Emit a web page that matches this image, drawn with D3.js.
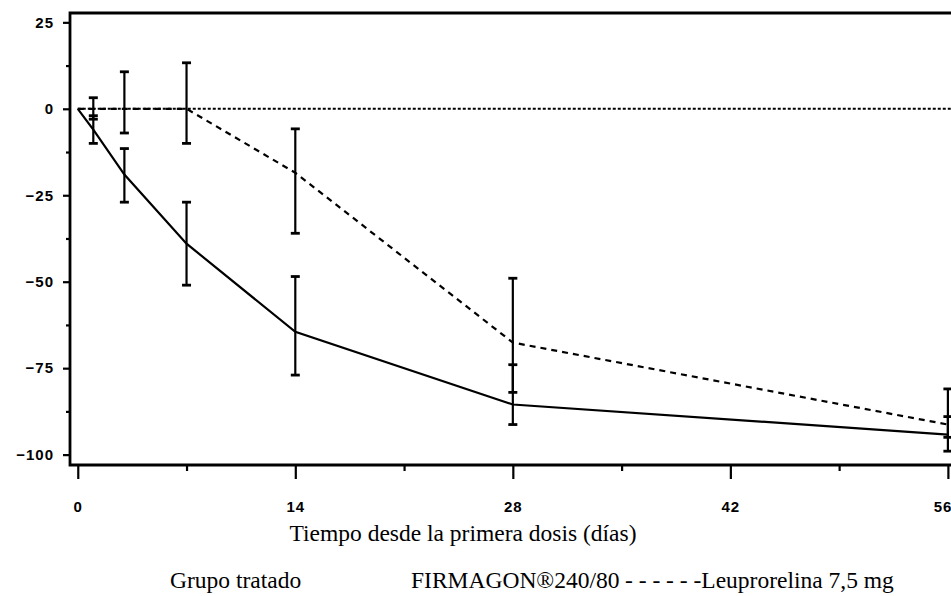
<!DOCTYPE html>
<html>
<head>
<meta charset="utf-8">
<script src="https://cdn.jsdelivr.net/npm/d3@7"></script>
<style>
  html, body { margin: 0; padding: 0; background: #fff; }
  svg { display: block; }
</style>
</head>
<body>
<script>
// ---- data ----
const days = [0, 1, 3, 7, 14, 28, 56];
const firmagon = [0, -6, -19, -39, -64.5, -85.5, -94.2];
const firmagonLow = [null, -10, -27, -51, -77, -91.3, -99];
const firmagonHigh = [null, -2, -11.5, -27, -48.5, -74, -89];
const leuprorelin = [0, 0, 0, 0, -18.5, -67.6, -91.3];
const leuprorelinLow = [null, -3, -7, -10, -36, -82, -95];
const leuprorelinHigh = [null, 3.2, 10.7, 13.3, -5.8, -49, -81];
const xMajorTicks = [0, 14, 28, 42, 56];
const xMinorTicks = [7, 21, 35, 49];
const yMajorTicks = [25, 0, -25, -50, -75, -100];
const yMinorTicks = [12.5, -12.5, -37.5, -62.5, -87.5];
const xTitle = "Tiempo desde la primera dosis (días)";
const legendLabels = ["Grupo tratado", "FIRMAGON®240/80", "- - - - - -Leuprorelina 7,5 mg"];

// ---- layout ----
const W = 951, H = 596;
const plotL = 70, plotR = 951, plotT = 13, plotB = 465;

const svg = d3.select("body").append("svg").attr("width", W).attr("height", H);

const x = d3.scaleLinear().domain([-0.5, 56.2]).range([plotL, plotR]);
const y = d3.scaleLinear().domain([-103, 27.7]).range([plotB, plotT]);

// zero reference line
svg.append("line")
  .attr("x1", x(0)).attr("x2", plotR)
  .attr("y1", y(0)).attr("y2", y(0))
  .attr("stroke", "#000").attr("stroke-width", 2)
  .attr("stroke-dasharray", "3,2");

// axes
const gx = svg.append("g").attr("transform", `translate(0,${plotB})`)
  .call(d3.axisBottom(x).tickValues(xMajorTicks).tickSize(14).tickPadding(22).tickFormat(d3.format("d")));
svg.append("g").attr("transform", `translate(0,${plotB})`)
  .call(d3.axisBottom(x).tickValues(xMinorTicks).tickSize(6).tickFormat(""));
svg.append("g").attr("transform", `translate(${plotL},0)`)
  .call(d3.axisLeft(y).tickValues(yMajorTicks).tickSize(7).tickPadding(9).tickFormat(d3.format("d")));
svg.append("g").attr("transform", `translate(${plotL},0)`)
  .call(d3.axisLeft(y).tickValues(yMinorTicks).tickSize(4).tickFormat(""));

svg.selectAll(".domain").remove();
svg.selectAll(".tick line").attr("stroke", "#000").attr("stroke-width", 2.2);
svg.selectAll(".tick text")
  .attr("font-family", "Liberation Sans, Arial, sans-serif")
  .attr("font-weight", "bold").attr("font-size", 15)
  .attr("letter-spacing", 1).attr("fill", "#000");
// keep the last x label inside the picture
gx.selectAll(".tick text").filter(d => d === 56)
  .attr("text-anchor", "end").attr("dx", 4);

// frame (left, bottom, top)
svg.append("path")
  .attr("d", `M${plotR},${plotT} H${plotL} V${plotB} H${plotR}`)
  .attr("fill", "none").attr("stroke", "#000").attr("stroke-width", 2.8);

// series lines
const lineGen = arr => d3.line()
  .x((d, i) => x(days[i]))
  .y(d => y(d))(arr);

svg.append("path").attr("d", lineGen(leuprorelin))
  .attr("fill", "none").attr("stroke", "#000").attr("stroke-width", 2.2)
  .attr("stroke-dasharray", "6,5");
svg.append("path").attr("d", lineGen(firmagon))
  .attr("fill", "none").attr("stroke", "#000").attr("stroke-width", 2.2);

// error bars
function errorBars(lo, hi) {
  const idx = days.map((d, i) => i).filter(i => lo[i] !== null);
  const g = svg.append("g").attr("stroke", "#000").attr("stroke-width", 2.2);
  idx.forEach(i => {
    const cx = x(days[i]);
    g.append("line").attr("x1", cx).attr("x2", cx).attr("y1", y(lo[i])).attr("y2", y(hi[i]));
    g.append("line").attr("x1", cx - 4.5).attr("x2", cx + 4.5).attr("y1", y(lo[i])).attr("y2", y(lo[i])).attr("stroke-width", 2.8);
    g.append("line").attr("x1", cx - 4.5).attr("x2", cx + 4.5).attr("y1", y(hi[i])).attr("y2", y(hi[i])).attr("stroke-width", 2.8);
  });
}
errorBars(leuprorelinLow, leuprorelinHigh);
errorBars(firmagonLow, firmagonHigh);

// axis title
svg.append("text")
  .attr("x", 463).attr("y", 541)
  .attr("text-anchor", "middle")
  .attr("font-family", "Liberation Serif, Times New Roman, serif")
  .attr("font-size", 23.5).attr("fill", "#000")
  .text(xTitle);

// legend
const legendX = [170, 411, 625];
legendLabels.forEach((t, i) => {
  svg.append("text")
    .attr("x", legendX[i]).attr("y", 588)
    .attr("font-family", "Liberation Serif, Times New Roman, serif")
    .attr("font-size", 23.5).attr("fill", "#000")
    .text(t);
});
</script>
</body>
</html>
